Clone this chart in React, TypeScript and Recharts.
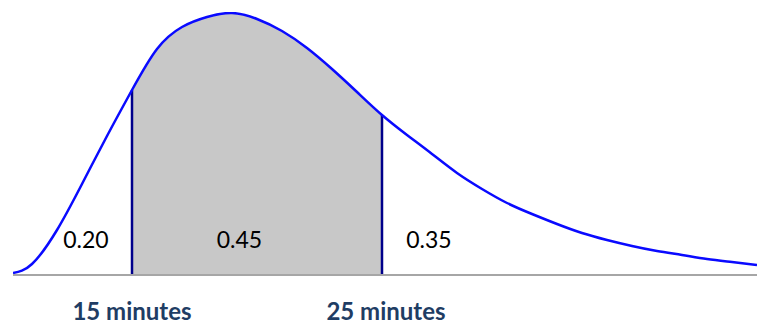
import React from 'react';
import { ComposedChart, Area, Line, XAxis, YAxis, ReferenceLine, ReferenceDot } from 'recharts';

// minutes along the horizontal axis
const minutes = [10.24, 11, 12, 13, 14, 15, 16, 17, 18, 19, 20, 21, 22, 23, 24, 25, 26, 27, 28, 29, 30, 31, 32, 33, 34, 35, 36, 37, 38, 39, 40];
// relative density (curve height)
const density = [2, 11, 45, 91, 139, 185, 226, 248, 258, 262, 256, 244, 227, 206, 183, 160, 140, 121, 102, 86, 72, 61, 51, 42, 35, 29, 24, 20, 16, 13, 10];

const lowCut = 15;
const highCut = 25;
const tickValues = [15, 25];
const tickLabels = ['15 minutes', '25 minutes'];

const regionX = [13.16, 19.3, 26.88];
const regionY = [35, 35, 35];
const regionText = ['0.20', '0.45', '0.35'];

const data = minutes.map((m, i) => ({ m, d: density[i] }));

const dAt = (m: number) => density[minutes.indexOf(m)];
const xMin = minutes[0];
const xMax = minutes[minutes.length - 1];
const offLow = (lowCut - xMin) / (xMax - xMin);
const offHigh = (highCut - xMin) / (xMax - xMin);

const FONT = 'Lato, "Open Sans", sans-serif';

const Tick = (props: any) => {
  const { x, y, payload } = props;
  const idx = tickValues.indexOf(payload.value);
  return (
    <text x={x + (idx === 1 ? 4 : 0)} y={y + 45} textAnchor="middle" fontFamily={FONT} fontSize={24} fontWeight={700} fill="#1f3d64">
      {tickLabels[idx]}
    </text>
  );
};

export default function App() {
  return (
    <div style={{ position: 'absolute', left: 0, top: 0, width: 760, height: 324, background: '#fff' }}>
      <ComposedChart width={760} height={324} data={data} margin={{ top: 12, right: 3, bottom: 0, left: 13 }}>
        <defs>
          <linearGradient id="shadeBand" x1="0" y1="0" x2="1" y2="0">
            <stop offset={0} stopColor="#c8c8c8" stopOpacity={0} />
            <stop offset={offLow} stopColor="#c8c8c8" stopOpacity={0} />
            <stop offset={offLow} stopColor="#c8c8c8" stopOpacity={1} />
            <stop offset={offHigh} stopColor="#c8c8c8" stopOpacity={1} />
            <stop offset={offHigh} stopColor="#c8c8c8" stopOpacity={0} />
            <stop offset={1} stopColor="#c8c8c8" stopOpacity={0} />
          </linearGradient>
        </defs>
        <XAxis
          dataKey="m"
          type="number"
          domain={[xMin, xMax]}
          ticks={tickValues}
          tick={<Tick />}
          tickLine={false}
          tickSize={0}
          tickMargin={0}
          height={49}
          axisLine={{ stroke: '#a6a6a6', strokeWidth: 2 }}
          allowDataOverflow
        />
        <YAxis hide domain={[0, 263]} allowDataOverflow />
        <Area
          dataKey="d"
          type="natural"
          fill="url(#shadeBand)"
          fillOpacity={1}
          stroke="none"
          isAnimationActive={false}
        />
        <ReferenceLine
          segment={[{ x: lowCut, y: 0 }, { x: lowCut, y: dAt(lowCut) }]}
          stroke="#00008b"
          strokeWidth={2.5}
        />
        <ReferenceLine
          segment={[{ x: highCut, y: 0 }, { x: highCut, y: dAt(highCut) }]}
          stroke="#00008b"
          strokeWidth={2.5}
        />
        <Line dataKey="d" type="natural" stroke="#0a0aff" strokeWidth={2.5} dot={false} isAnimationActive={false} />
        {regionText.map((t, i) => (
          <ReferenceDot
            key={t}
            x={regionX[i]}
            y={regionY[i]}
            r={0}
            fill="none"
            stroke="none"
            label={{ value: t, position: 'center', fontSize: 23, fill: '#000', fontFamily: FONT }}
          />
        ))}
      </ComposedChart>
    </div>
  );
}
